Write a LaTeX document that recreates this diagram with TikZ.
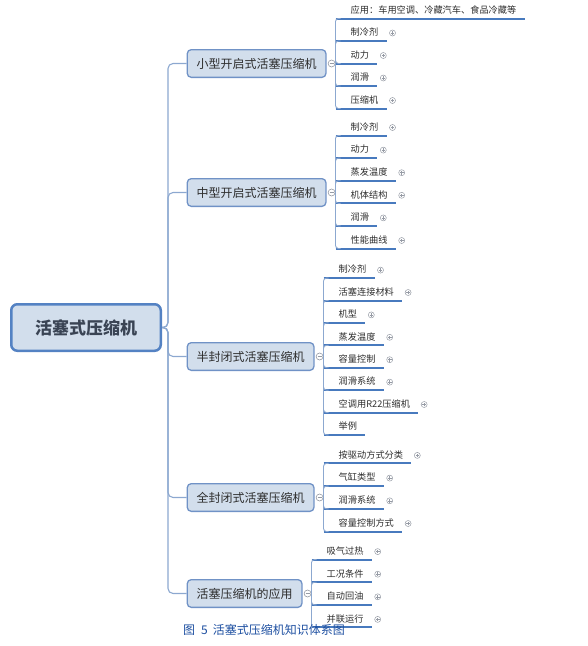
\documentclass[tikz,border=0pt]{standalone}
\usepackage{fontspec}
\setmainfont{Noto Sans CJK SC}
\definecolor{boxfill}{RGB}{210,222,236}
\definecolor{bborder}{RGB}{112,146,198}
\definecolor{rborder}{RGB}{84,130,195}
\definecolor{connc}{RGB}{140,168,208}
\definecolor{ulc}{RGB}{72,122,190}
\definecolor{txt}{RGB}{45,45,45}
\definecolor{roottxt}{RGB}{58,68,84}
\definecolor{iconc}{RGB}{150,155,165}
\definecolor{capblue}{RGB}{28,78,160}
\tikzset{
  rootbox/.style={rectangle, rounded corners=6pt, draw=rborder, line width=2.5pt, fill=boxfill,
    minimum width=149.5pt, minimum height=46.5pt, inner sep=0pt, text=roottxt,
    font=\fontsize{17}{20}\selectfont\bfseries},
  branchbox/.style={rectangle, rounded corners=4pt, draw=bborder, line width=1.3pt, fill=boxfill,
    minimum height=27.7pt, inner sep=0pt, anchor=west, text=txt, font=\fontsize{12}{14}\selectfont},
  trunk/.style={draw=connc, line width=1.1pt, rounded corners=5pt},
  conn/.style={draw=connc, line width=0.9pt},
  uline/.style={draw=ulc, line width=2pt},
  leaf/.style={anchor=south west, inner xsep=0pt, inner ysep=3.5pt, text height=7.5pt, text depth=1.5pt,
    text=txt, font=\fontsize{9.2}{11}\selectfont},
  plusic/.style={circle, draw=iconc, line width=0.5pt, minimum size=6pt, inner sep=0pt,
    path picture={\draw[iconc, line width=0.5pt] (path picture bounding box.center) +(-1.8pt,0pt) -- +(1.8pt,0pt)
      (path picture bounding box.center) +(0pt,-1.8pt) -- +(0pt,1.8pt);}},
  minusic/.style={circle, draw=iconc, line width=0.6pt, fill=white, minimum size=7pt, inner sep=0pt,
    path picture={\draw[iconc, line width=0.6pt] (path picture bounding box.center) +(-2pt,0pt) -- +(2pt,0pt);}}
}
\newcommand\leafitem[5]{%
  \node[leaf] (#1) at (#2,#3) {\hspace*{15pt}#5\hspace*{8pt}};
  \draw[uline] (#1.south west) -- (#1.south east);
  \draw[conn] (#4.east) -- (#4.east -| #1.south west) [rounded corners=3pt] |- ([xshift=5pt]#1.south west);
}
\newcommand\plusitem[1]{\node[plusic] (#1p) at ([xshift=6pt,yshift=8pt]#1.south east) {};}
\begin{document}
\begin{tikzpicture}[x=1pt,y=-1pt]
\useasboundingbox (0,0) rectangle (588,646);
% root
\node[rootbox] (root) at (86,327.5) {活塞式压缩机};
% branches
\node[branchbox, minimum width=138.7pt] (b1) at (186.6,63.5) {小型开启式活塞压缩机};
\node[branchbox, minimum width=138.7pt] (b2) at (186.6,192.5) {中型开启式活塞压缩机};
\node[branchbox, minimum width=126.7pt] (b3) at (186.6,356.5) {半封闭式活塞压缩机};
\node[branchbox, minimum width=126.7pt] (b4) at (186.6,497.5) {全封闭式活塞压缩机};
\node[branchbox, minimum width=114.7pt] (b5) at (186.6,593.5) {活塞压缩机的应用};
% trunk connectors
\foreach \b in {b1,b2,b3,b4,b5}{
  \draw[trunk] (root.east) -- ++(6,0) |- (\b.west);
}
% collapse circles
\node[minusic] (c1) at ([xshift=5pt]b1.east) {};
\node[minusic] (c2) at ([xshift=5pt]b2.east) {};
\node[minusic] (c3) at ([xshift=5pt]b3.east) {};
\node[minusic] (c4) at ([xshift=5pt]b4.east) {};
\node[minusic] (c5) at ([xshift=5pt]b5.east) {};
% branch 1 leaves
\leafitem{la1}{335.5}{18.5}{c1}{应用：车用空调、冷藏汽车、食品冷藏等}
\leafitem{la2}{335.5}{41}{c1}{制冷剂}\plusitem{la2}
\leafitem{la3}{335.5}{63.5}{c1}{动力}\plusitem{la3}
\leafitem{la4}{335.5}{86}{c1}{润滑}\plusitem{la4}
\leafitem{la5}{335.5}{108.5}{c1}{压缩机}\plusitem{la5}
% branch 2 leaves
\leafitem{lb1}{335.5}{135.5}{c2}{制冷剂}\plusitem{lb1}
\leafitem{lb2}{335.5}{158.1}{c2}{动力}\plusitem{lb2}
\leafitem{lb3}{335.5}{180.7}{c2}{蒸发温度}\plusitem{lb3}
\leafitem{lb4}{335.5}{203.3}{c2}{机体结构}\plusitem{lb4}
\leafitem{lb5}{335.5}{225.9}{c2}{润滑}\plusitem{lb5}
\leafitem{lb6}{335.5}{248.5}{c2}{性能曲线}\plusitem{lb6}
% branch 3 leaves
\leafitem{lc1}{323.5}{278.1}{c3}{制冷剂}\plusitem{lc1}
\leafitem{lc2}{323.5}{300.5}{c3}{活塞连接材料}\plusitem{lc2}
\leafitem{lc3}{323.5}{322.9}{c3}{机型}\plusitem{lc3}
\leafitem{lc4}{323.5}{345.3}{c3}{蒸发温度}\plusitem{lc4}
\leafitem{lc5}{323.5}{367.7}{c3}{容量控制}\plusitem{lc5}
\leafitem{lc6}{323.5}{390.1}{c3}{润滑系统}\plusitem{lc6}
\leafitem{lc7}{323.5}{412.5}{c3}{空调用R22压缩机}\plusitem{lc7}
\leafitem{lc8}{323.5}{434.9}{c3}{举例}
% branch 4 leaves
\leafitem{ld1}{323.5}{463.4}{c4}{按驱动方式分类}\plusitem{ld1}
\leafitem{ld2}{323.5}{486.1}{c4}{气缸类型}\plusitem{ld2}
\leafitem{ld3}{323.5}{508.8}{c4}{润滑系统}\plusitem{ld3}
\leafitem{ld4}{323.5}{531.5}{c4}{容量控制方式}\plusitem{ld4}
% branch 5 leaves
\leafitem{le1}{311.5}{559.6}{c5}{吸气过热}\plusitem{le1}
\leafitem{le2}{311.5}{582.2}{c5}{工况条件}\plusitem{le2}
\leafitem{le3}{311.5}{604.8}{c5}{自动回油}\plusitem{le3}
\leafitem{le4}{311.5}{627.4}{c5}{并联运行}\plusitem{le4}
% caption
\node[text=capblue, font=\fontsize{12}{14}\selectfont, inner sep=0pt, anchor=west] (cap) at (183,630) {图\hspace{6pt}5\hspace{5pt}活塞式压缩机知识体系图};
\end{tikzpicture}
\end{document}
